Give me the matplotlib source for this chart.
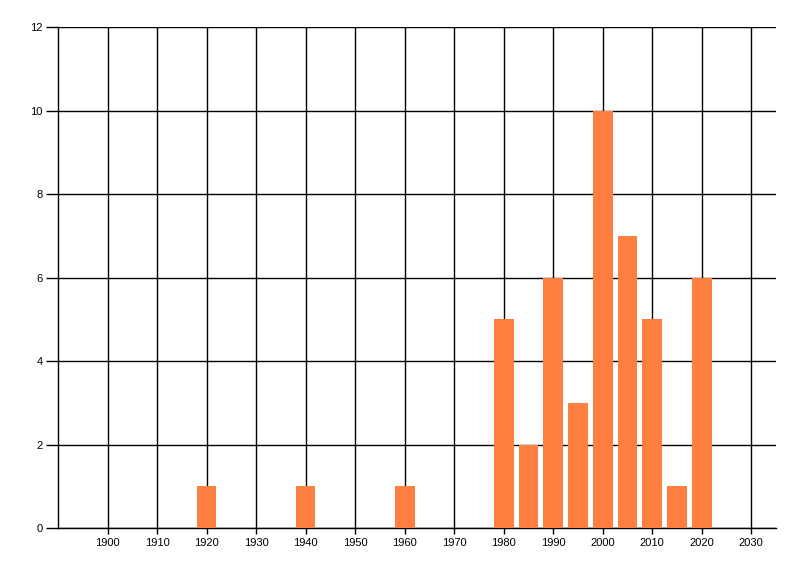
import matplotlib
matplotlib.use('Agg')
import matplotlib.pyplot as plt

# 每个柱子的年份和数量
years = [1920, 1940, 1960, 1980, 1985, 1990, 1995, 2000, 2005, 2010, 2015, 2020]
counts = [1, 1, 1, 5, 2, 6, 3, 10, 7, 5, 1, 6]
x_ticks = list(range(1900, 2031, 10))
y_ticks = list(range(0, 13, 2))

plt.rcParams['font.family'] = ['Liberation Sans', 'DejaVu Sans']

fig = plt.figure(figsize=(8, 5.76), dpi=100)
ax = fig.add_axes([0.0725, 0.0833, 0.8975, 0.8697])

ax.bar(years, counts, width=4, color='#FF7F40', zorder=3)

ax.set_xlim(1890, 2035)
ax.set_ylim(0, 12)
ax.set_xticks(x_ticks)
ax.set_yticks(y_ticks)
ax.grid(True, color='black', linewidth=1, zorder=0)
ax.set_axisbelow(True)

for side in ['top', 'right']:
    ax.spines[side].set_visible(False)
ax.spines['left'].set_linewidth(1)
ax.spines['bottom'].set_linewidth(1)

ax.tick_params(axis='y', length=9, width=1, labelsize=8, pad=2)
ax.tick_params(axis='x', length=4, width=1, labelsize=8, pad=3)

plt.savefig('out.png', dpi=100)
plt.close()
